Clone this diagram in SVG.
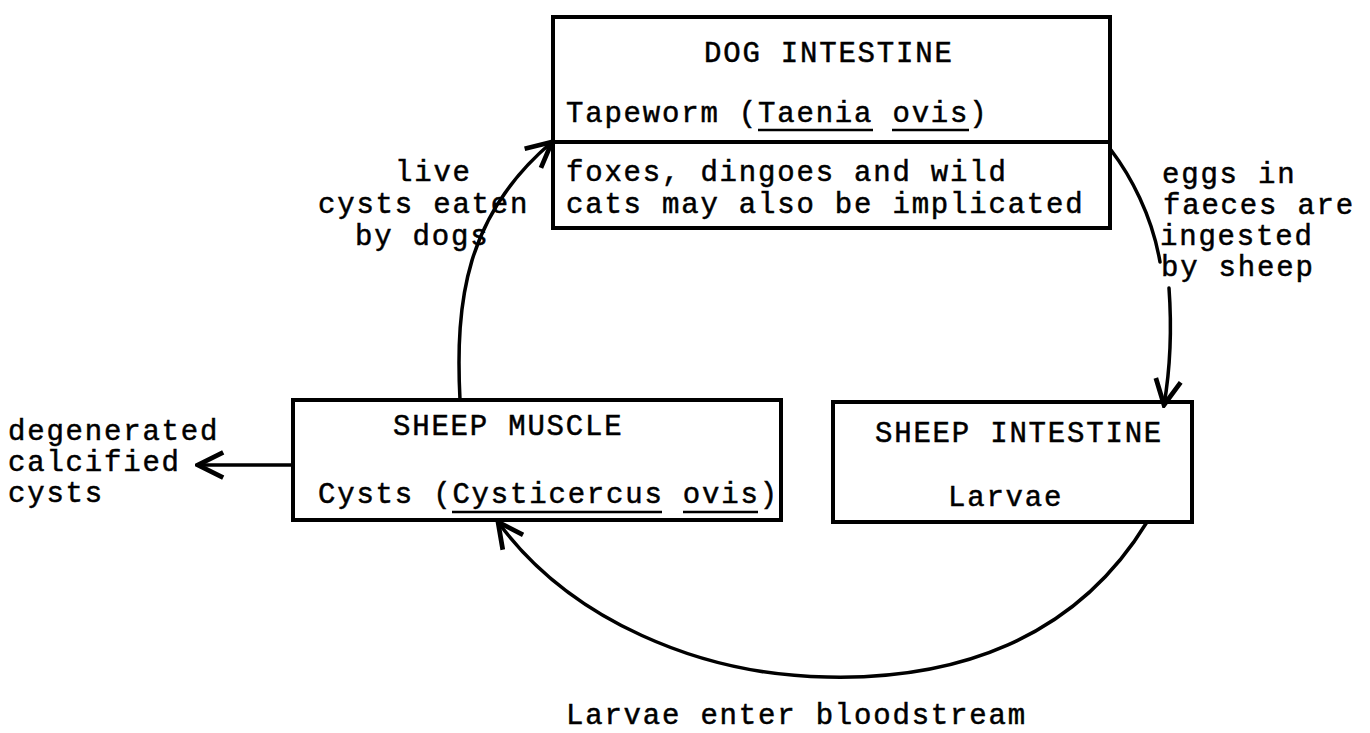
<svg xmlns="http://www.w3.org/2000/svg" width="1370" height="733" viewBox="0 0 1370 733">
<defs>
<style>
text{font-family:"Liberation Mono","Courier New",monospace;font-size:29px;letter-spacing:1.8px;fill:#000;stroke:#000;stroke-width:0.5}
.box{fill:none;stroke:#000;stroke-width:4}
.conn{fill:none;stroke:#000;stroke-width:3.5;stroke-linecap:round}
.ul{stroke:#000;stroke-width:2.5}
</style>
<marker id="arr" viewBox="0 0 20 20" refX="18" refY="10" markerWidth="9" markerHeight="9" markerUnits="strokeWidth" orient="auto">
<path d="M2,2 L18,10 L2,18" fill="none" stroke="#000" stroke-width="3"/>
</marker>
</defs>
<rect width="1370" height="733" fill="#fff"/>
<g id="dog-intestine">
<rect class="box" x="553" y="17" width="557" height="211"/>
<line class="box" x1="553" y1="142" x2="1110" y2="142"/>
<text x="704" y="62">DOG INTESTINE</text>
<text x="566" y="122">Tapeworm (Taenia ovis)</text>
<line class="ul" x1="758" y1="130" x2="873" y2="130"/>
<line class="ul" x1="892" y1="130" x2="969" y2="130"/>
<text x="566" y="181">foxes, dingoes and wild</text>
<text x="566" y="213">cats may also be implicated</text>
</g>
<g id="sheep-muscle">
<rect class="box" x="293" y="400" width="488" height="120"/>
<text x="393" y="435">SHEEP MUSCLE</text>
<text x="318" y="503">Cysts (Cysticercus ovis)</text>
<line class="ul" x1="452" y1="512" x2="662" y2="512"/>
<line class="ul" x1="683" y1="512" x2="758" y2="512"/>
</g>
<g id="sheep-intestine">
<rect class="box" x="833" y="402" width="359" height="120"/>
<text x="875" y="442">SHEEP INTESTINE</text>
<text x="948" y="506">Larvae</text>
</g>
<g id="labels">
<text x="8" y="440">degenerated</text>
<text x="8" y="471">calcified</text>
<text x="8" y="502">cysts</text>
<text x="395" y="181">live</text>
<text x="318" y="213">cysts eaten</text>
<text x="355" y="245">by dogs</text>
<text x="1162" y="183">eggs in</text>
<text x="1163" y="214">faeces are</text>
<text x="1160" y="245">ingested</text>
<text x="1161" y="276">by sheep</text>
<text x="566" y="724">Larvae enter bloodstream</text>
</g>
<g id="connectors">
<path class="conn" d="M293,465 L198,465" marker-end="url(#arr)"/>
<path class="conn" d="M460,400 C455,300 466,215 552,142" marker-end="url(#arr)"/>
<path class="conn" d="M1111,150 C1130,175 1152,215 1160,262"/>
<path class="conn" d="M1169,288 C1172,330 1170,370 1164,405" marker-end="url(#arr)"/>
<path class="conn" d="M1147,522 C1075,640 955,680 827,677 C700,675 570,620 498,522" marker-end="url(#arr)"/>
</g>
</svg>
